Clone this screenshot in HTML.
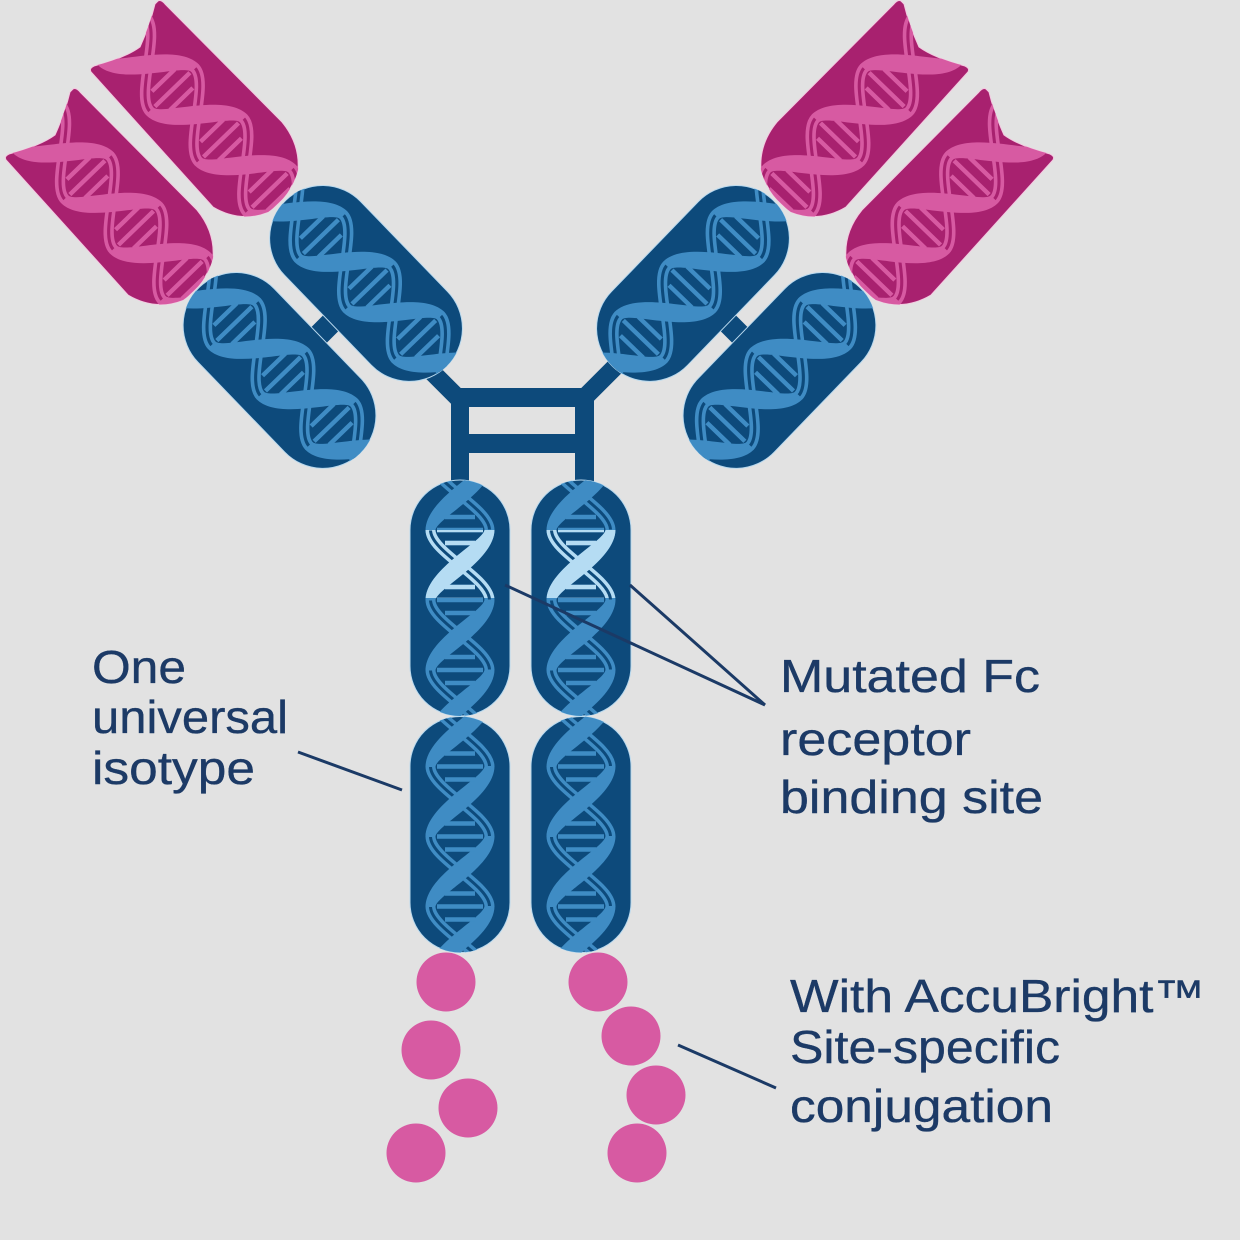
<!DOCTYPE html>
<html><head><meta charset="utf-8"><style>
html,body{margin:0;padding:0;background:#e2e2e2}
svg{display:block}
text{font-family:"Liberation Sans",sans-serif;font-size:46px;fill:#1c3a66;stroke:#1c3a66;stroke-width:.35}
.t{fill:var(--s)}
.b{fill:none;stroke:var(--s);stroke-width:10}
.c{fill:none;stroke:var(--d);stroke-width:3}
.r{stroke:var(--s);stroke-width:4.4;fill:none}
.l{stroke:#1b3a66;stroke-width:3;fill:none}
</style></head><body>
<svg width="1240" height="1240" viewBox="0 0 1240 1240" xmlns="http://www.w3.org/2000/svg">
<defs>
<g id="bs"><path class="b" d="M-29.5,-35C-29.5,-13 29.5,13 29.5,35"/><path class="c" d="M-29.5,-35C-29.5,-13 29.5,13 29.5,35"/></g>
<path id="th" class="t" d="M-34.5,35.5C-34.5,4 24.5,-24 24.5,-35.5L34.5,-35.5C34.5,-4 -24.5,24 -24.5,35.5Z"/>
<path id="rr" class="r" d="M-15,-13H15M-23,0H23M-15,13H15"/>
<g id="helix">
<use href="#bs" y="-175"/><use href="#bs" y="-105"/><use href="#bs" y="-35"/><use href="#bs" y="35"/><use href="#bs" y="105"/><use href="#bs" y="175"/>
<use href="#th" y="-175"/><use href="#th" y="-105"/><use href="#th" y="-35"/><use href="#th" y="35"/><use href="#th" y="105"/><use href="#th" y="175"/>
<use href="#rr" y="-70"/><use href="#rr"/><use href="#rr" y="70"/>
</g>
<clipPath id="cap"><rect x="-50" y="-120" width="100" height="236" rx="50"/></clipPath>
<clipPath id="capd"><rect x="-53" y="-120.5" width="106" height="231" rx="53"/></clipPath>
<g id="capsule" style="--s:#3f8cc4;--d:#0d4a7b">
<rect x="-50" y="-120" width="100" height="236" rx="50" fill="#0d4a7b" stroke="#b9d9ee" stroke-width="1"/>
<g clip-path="url(#cap)"><use href="#helix"/></g>
</g>
<g id="capsuled" style="--s:#3f8cc4;--d:#0d4a7b">
<rect x="-53" y="-120.5" width="106" height="231" rx="53" fill="#0d4a7b" stroke="#b9d9ee" stroke-width="1"/>
<g clip-path="url(#capd)"><use href="#helix" transform="scale(-1.06,1)"/></g>
</g>
<path id="pk" d="M158,1Q161,-1 165,4L282,122Q300,144 298,170Q291,196 268,212Q240,223 213,207L92,73Q88,69 94,66Q125,58 140,47Q150,25 155,4Z"/>
<clipPath id="pkc"><use href="#pk"/></clipPath>
<g id="pink" style="--s:#d75aa2;--d:#a8216f">
<use href="#pk" fill="#a8216f" stroke="#f3c9e0" stroke-width="1"/>
<g clip-path="url(#pkc)"><g transform="translate(221,140) rotate(-44)"><use href="#helix" transform="scale(-1.06,1)"/></g></g>
</g>
<g id="arm">
<use href="#pink"/>
<use href="#pink" transform="translate(-85,88)"/>
<path d="M300,354L350,304" stroke="#0d4a7b" stroke-width="22"/>
<use href="#capsuled" transform="translate(369.5,287) rotate(-44)"/>
<use href="#capsuled" transform="translate(283,374) rotate(-44)"/>
</g>
<clipPath id="pale"><rect x="-60" y="-70" width="120" height="68"/></clipPath>
</defs>
<rect width="1240" height="1240" fill="#e2e2e2"/>

<!-- hinge -->
<g fill="#0d4a7b">
<path d="M428,368L462,402M616,366L582,400" stroke="#0d4a7b" stroke-width="18"/>
<rect x="451" y="388" width="143" height="19"/>
<rect x="451" y="434" width="143" height="19"/>
<rect x="451" y="388" width="18" height="100"/>
<rect x="575" y="388" width="19" height="100"/>
</g>

<use href="#arm"/>
<use href="#arm" transform="translate(1059,0) scale(-1,1)"/>

<!-- stems -->
<use href="#capsule" transform="translate(460,600)"/>
<use href="#capsule" transform="translate(581,600)"/>
<use href="#capsule" transform="translate(460,836.5)"/>
<use href="#capsule" transform="translate(581,836.5)"/>
<g style="--s:#b5dcf3;--d:#0d4a7b">
<g transform="translate(460,600)" clip-path="url(#pale)"><use href="#helix"/></g>
<g transform="translate(581,600)" clip-path="url(#pale)"><use href="#helix"/></g>
</g>

<!-- dots -->
<g fill="#d75aa2">
<circle cx="446" cy="982" r="29.5"/><circle cx="431" cy="1050" r="29.5"/><circle cx="468" cy="1108" r="29.5"/><circle cx="416" cy="1153" r="29.5"/>
<circle cx="598" cy="982" r="29.5"/><circle cx="631" cy="1036" r="29.5"/><circle cx="656" cy="1095" r="29.5"/><circle cx="637" cy="1153" r="29.5"/>
</g>

<!-- leaders -->
<path class="l" d="M298,752L402,790"/>
<path class="l" d="M630,585L765,705"/>
<path class="l" d="M505,585L765,705"/>
<path class="l" d="M678,1045L776,1088"/>

<!-- labels -->
<text x="92" y="683" textLength="94" lengthAdjust="spacingAndGlyphs">One</text>
<text x="92" y="733" textLength="196" lengthAdjust="spacingAndGlyphs">universal</text>
<text x="92" y="784" textLength="163" lengthAdjust="spacingAndGlyphs">isotype</text>
<text x="780" y="692" textLength="260" lengthAdjust="spacingAndGlyphs">Mutated Fc</text>
<text x="780" y="755" textLength="191" lengthAdjust="spacingAndGlyphs">receptor</text>
<text x="780" y="813" textLength="263" lengthAdjust="spacingAndGlyphs">binding site</text>
<text x="790" y="1012" textLength="415" lengthAdjust="spacingAndGlyphs">With AccuBright™</text>
<text x="790" y="1063" textLength="270" lengthAdjust="spacingAndGlyphs">Site-specific</text>
<text x="790" y="1122" textLength="263" lengthAdjust="spacingAndGlyphs">conjugation</text>
</svg>
</body></html>
